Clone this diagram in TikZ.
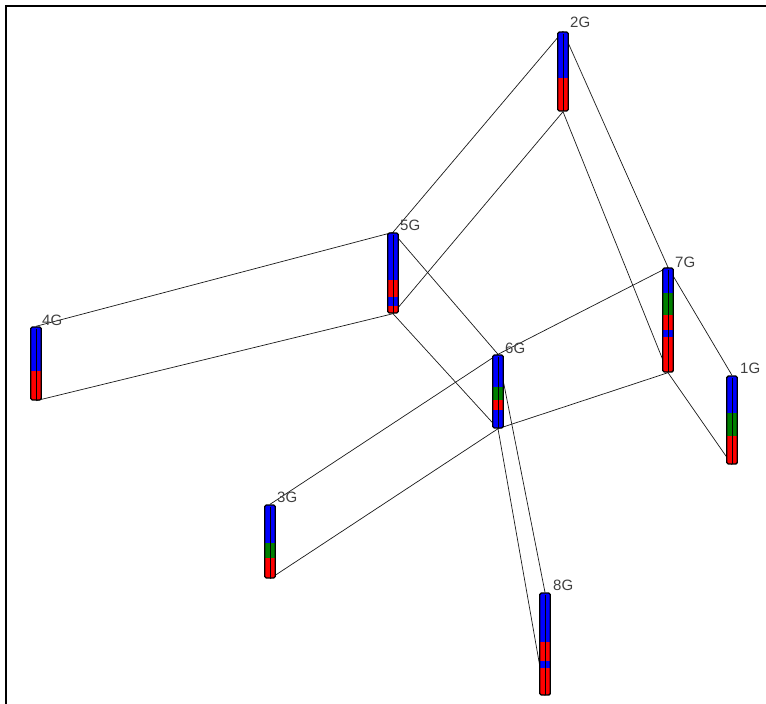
\documentclass[tikz,border=0pt]{standalone}
\usepackage{fontspec}
\setmainfont{Liberation Sans}
\definecolor{cblue}{RGB}{0,0,255}
\definecolor{cred}{RGB}{255,0,0}
\definecolor{cgreen}{RGB}{0,128,0}
\pgfdeclarelayer{bg}
\pgfdeclarelayer{mid}
\pgfsetlayers{bg,mid,main}
\newcommand\gcolumn[6]{% #1 name, #2 x, #3 top, #4 bottom, #5 height, #6 segments
  \node[gcol, minimum height=#5] (#1) at (#2,{(#3+#4)/2}) {};
  \begin{pgfonlayer}{mid}
    \foreach \ya/\yb/\cc in {#6} {\fill[\cc] (#2-5,\ya) rectangle (#2+5,\yb);}
  \end{pgfonlayer}
  \draw[line width=0.8pt] (#2,#3+1.5) -- (#2,#4);
}
\begin{document}
\begin{tikzpicture}[x=1pt,y=-1pt,
  gcol/.style={draw=black, line width=1.4pt, rounded corners=1.5pt, minimum width=10.5, inner sep=0, shape=rectangle},
  conn/.style={line width=0.7pt, black!90},
  lab/.style={font=\fontsize{15}{15}\selectfont, text=black!75, anchor=west, inner sep=0}]
\useasboundingbox (0,0) rectangle (766,704);
\draw[line width=2.3pt] (6.2,704) -- (6.2,6.2) -- (766,6.2);

\gcolumn{g2}{563}{32}{111}{79}{32/78/cblue,78/111/cred}
\gcolumn{g5}{393}{233}{313}{80}{233/280/cblue,280/297/cred,297/306/cblue,306/313/cred}
\gcolumn{g4}{36}{327}{400}{73}{327/371/cblue,371/400/cred}
\gcolumn{g6}{498}{355}{428}{73}{355/387/cblue,387/400/cgreen,400/410/cred,410/428/cblue}
\gcolumn{g7}{668}{268}{372}{104}{268/293/cblue,293/315/cgreen,315/330/cred,330/337/cblue,337/372/cred}
\gcolumn{g1}{732}{376}{464}{88}{376/413/cblue,413/436/cgreen,436/464/cred}
\gcolumn{g3}{270}{505}{578}{73}{505/543/cblue,543/558/cgreen,558/578/cred}
\gcolumn{g8}{545}{593}{695}{102}{593/642/cblue,642/661/cred,661/668/cblue,668/695/cred}

\node[lab] (l2) at (570,22) {2G};
\node[lab] (l5) at (400,225) {5G};
\node[lab] (l4) at (42,320) {4G};
\node[lab] (l6) at (505,348) {6G};
\node[lab] (l7) at (675,262) {7G};
\node[lab] (l1) at (740,368) {1G};
\node[lab] (l3) at (277,497) {3G};
\node[lab] (l8) at (553,585) {8G};

\begin{pgfonlayer}{bg}
\draw[conn] (g4.north) -- (g5.north);
\draw[conn] (g4.south) -- (g5.south);
\draw[conn] (g5.north) -- (g2.north);
\draw[conn] (g5.south) -- (g2.south);
\draw[conn] (g2.north) -- (g7.north);
\draw[conn] (g2.south) -- (g7.south);
\draw[conn] (g7.north) -- (g1.north);
\draw[conn] (g7.south) -- (g1.south);
\draw[conn] (g5.north) -- (g6.north);
\draw[conn] (g5.south) -- (g6.south);
\draw[conn] (g6.north) -- (g7.north);
\draw[conn] (g6.south) -- (g7.south);
\draw[conn] (g3.north) -- (g6.north);
\draw[conn] (g3.south) -- (g6.south);
\draw[conn] (g6.north) -- (g8.north);
\draw[conn] (g6.south) -- (g8.south);
\end{pgfonlayer}
\end{tikzpicture}
\end{document}
